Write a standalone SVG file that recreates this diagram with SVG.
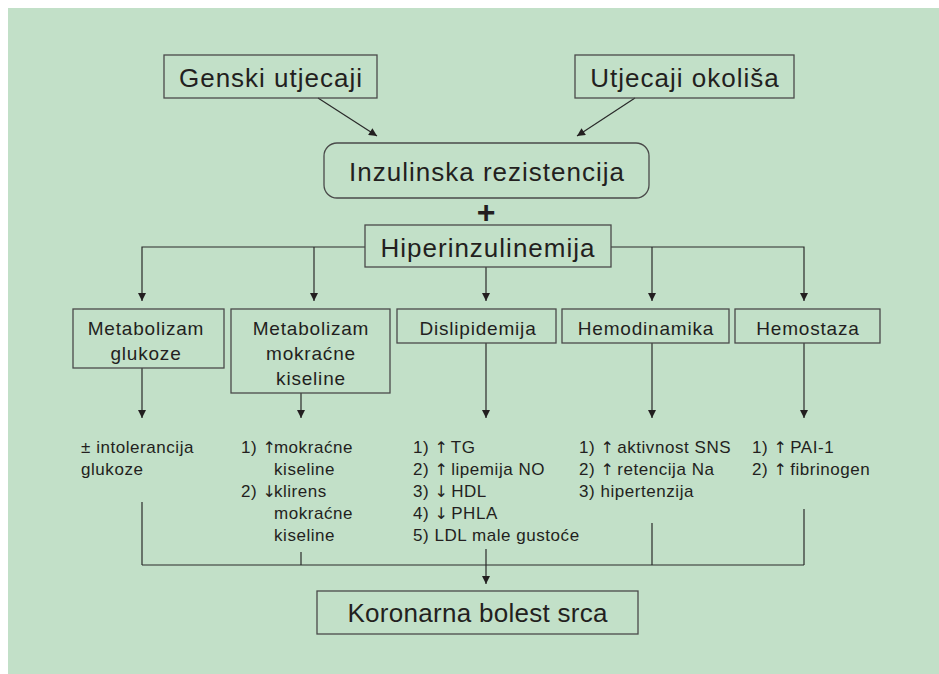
<svg xmlns="http://www.w3.org/2000/svg" width="939" height="674" viewBox="0 0 939 674">
<style>
.bg{fill:#c2e0c8}
.box{fill:none;stroke:#4a4a4a;stroke-width:1.3}
.ln{fill:none;stroke:#2a2a2a;stroke-width:1.2}
.big{font-family:"Liberation Sans",Arial,sans-serif;font-size:26px;fill:#231f20;text-anchor:middle;letter-spacing:1px}
.mid{font-family:"Liberation Sans",Arial,sans-serif;font-size:19px;fill:#231f20;text-anchor:middle;letter-spacing:0.8px}
.sm{font-family:"Liberation Sans",Arial,sans-serif;font-size:17px;fill:#231f20;letter-spacing:0.55px}
.ar{font-family:"DejaVu Sans",sans-serif;font-size:16px;letter-spacing:-2px}
.plus{font-family:"Liberation Sans",Arial,sans-serif;font-size:32px;font-weight:bold;fill:#231f20;text-anchor:middle}
</style>
<defs>
<marker id="ah" viewBox="0 0 10 10" refX="10" refY="5" markerWidth="9" markerHeight="8" markerUnits="userSpaceOnUse" orient="auto">
<path d="M0,0 L10,5 L0,10 z" fill="#231f20"/>
</marker>
</defs>
<rect class="bg" x="8" y="8" width="931" height="666"/>

<g id="connectors">
<line class="ln" x1="318" y1="98" x2="377" y2="136" marker-end="url(#ah)"/>
<line class="ln" x1="635" y1="98" x2="577" y2="136" marker-end="url(#ah)"/>
<polyline class="ln" points="365,247 142,247 142,301" marker-end="url(#ah)"/>
<line class="ln" x1="314" y1="247" x2="314" y2="301" marker-end="url(#ah)"/>
<line class="ln" x1="486" y1="267" x2="486" y2="301" marker-end="url(#ah)"/>
<polyline class="ln" points="611,247 804,247 804,301" marker-end="url(#ah)"/>
<line class="ln" x1="652" y1="247" x2="652" y2="301" marker-end="url(#ah)"/>
<line class="ln" x1="142" y1="368" x2="142" y2="418" marker-end="url(#ah)"/>
<line class="ln" x1="301" y1="393" x2="301" y2="418" marker-end="url(#ah)"/>
<line class="ln" x1="486" y1="343" x2="486" y2="418" marker-end="url(#ah)"/>
<line class="ln" x1="652" y1="343" x2="652" y2="418" marker-end="url(#ah)"/>
<line class="ln" x1="804" y1="343" x2="804" y2="418" marker-end="url(#ah)"/>
<line class="ln" x1="142" y1="502" x2="142" y2="565"/>
<line class="ln" x1="301" y1="552" x2="301" y2="565"/>
<line class="ln" x1="652" y1="523" x2="652" y2="565"/>
<line class="ln" x1="804" y1="509" x2="804" y2="565"/>
<line class="ln" x1="142" y1="565" x2="804" y2="565"/>
<line class="ln" x1="486" y1="549" x2="486" y2="584" marker-end="url(#ah)"/>
</g>

<g id="genski">
<rect class="box" x="164" y="55" width="213" height="43"/>
<text class="big" x="271" y="87">Genski utjecaji</text>
</g>
<g id="okolisa">
<rect class="box" x="575" y="55" width="219" height="43"/>
<text class="big" x="685" y="87">Utjecaji okoliša</text>
</g>
<g id="inzulinska">
<rect class="box" x="324" y="143" width="325" height="55" rx="13"/>
<text class="big" x="487" y="181">Inzulinska rezistencija</text>
</g>
<g id="plus">
<text class="plus" x="486" y="223">+</text>
</g>
<g id="hiperinzulinemija">
<rect class="box" x="365" y="225" width="246" height="42"/>
<text class="big" x="488" y="257">Hiperinzulinemija</text>
</g>

<g id="met-glukoze">
<rect class="box" x="73" y="309" width="151" height="59"/>
<text class="mid" x="146" y="335">Metabolizam</text>
<text class="mid" x="146" y="360">glukoze</text>
</g>
<g id="met-mokracne">
<rect class="box" x="231" y="309" width="159" height="84"/>
<text class="mid" x="311" y="335">Metabolizam</text>
<text class="mid" x="311" y="360">mokraćne</text>
<text class="mid" x="311" y="385">kiseline</text>
</g>
<g id="dislipidemija">
<rect class="box" x="397" y="309" width="159" height="34"/>
<text class="mid" x="478" y="335">Dislipidemija</text>
</g>
<g id="hemodinamika">
<rect class="box" x="562" y="309" width="167" height="34"/>
<text class="mid" x="646" y="335">Hemodinamika</text>
</g>
<g id="hemostaza">
<rect class="box" x="735" y="309" width="145" height="34"/>
<text class="mid" x="808" y="335">Hemostaza</text>
</g>

<g id="ef-glukoze">
<text class="sm" x="81" y="453">± intolerancija</text>
<text class="sm" x="81" y="475">glukoze</text>
</g>
<g id="ef-mokracne">
<text class="sm" x="241" y="453">1) <tspan class="ar">↑</tspan>mokraćne</text>
<text class="sm" x="274" y="475">kiseline</text>
<text class="sm" x="241" y="497">2) <tspan class="ar">↓</tspan>klirens</text>
<text class="sm" x="274" y="519">mokraćne</text>
<text class="sm" x="274" y="541">kiseline</text>
</g>
<g id="ef-dislipidemija">
<text class="sm" x="413" y="453">1) <tspan class="ar">↑</tspan> TG</text>
<text class="sm" x="413" y="475">2) <tspan class="ar">↑</tspan> lipemija NO</text>
<text class="sm" x="413" y="497">3) <tspan class="ar">↓</tspan> HDL</text>
<text class="sm" x="413" y="519">4) <tspan class="ar">↓</tspan> PHLA</text>
<text class="sm" x="413" y="541">5) LDL male gustoće</text>
</g>
<g id="ef-hemodinamika">
<text class="sm" x="579" y="453">1) <tspan class="ar">↑</tspan> aktivnost SNS</text>
<text class="sm" x="579" y="475">2) <tspan class="ar">↑</tspan> retencija Na</text>
<text class="sm" x="579" y="497">3) hipertenzija</text>
</g>
<g id="ef-hemostaza">
<text class="sm" x="752" y="453">1) <tspan class="ar">↑</tspan> PAI-1</text>
<text class="sm" x="752" y="475">2) <tspan class="ar">↑</tspan> fibrinogen</text>
</g>

<g id="koronarna">
<rect class="box" x="317" y="591" width="321" height="43"/>
<text class="big" x="478" y="622" textLength="261" lengthAdjust="spacing">Koronarna bolest srca</text>
</g>
</svg>
